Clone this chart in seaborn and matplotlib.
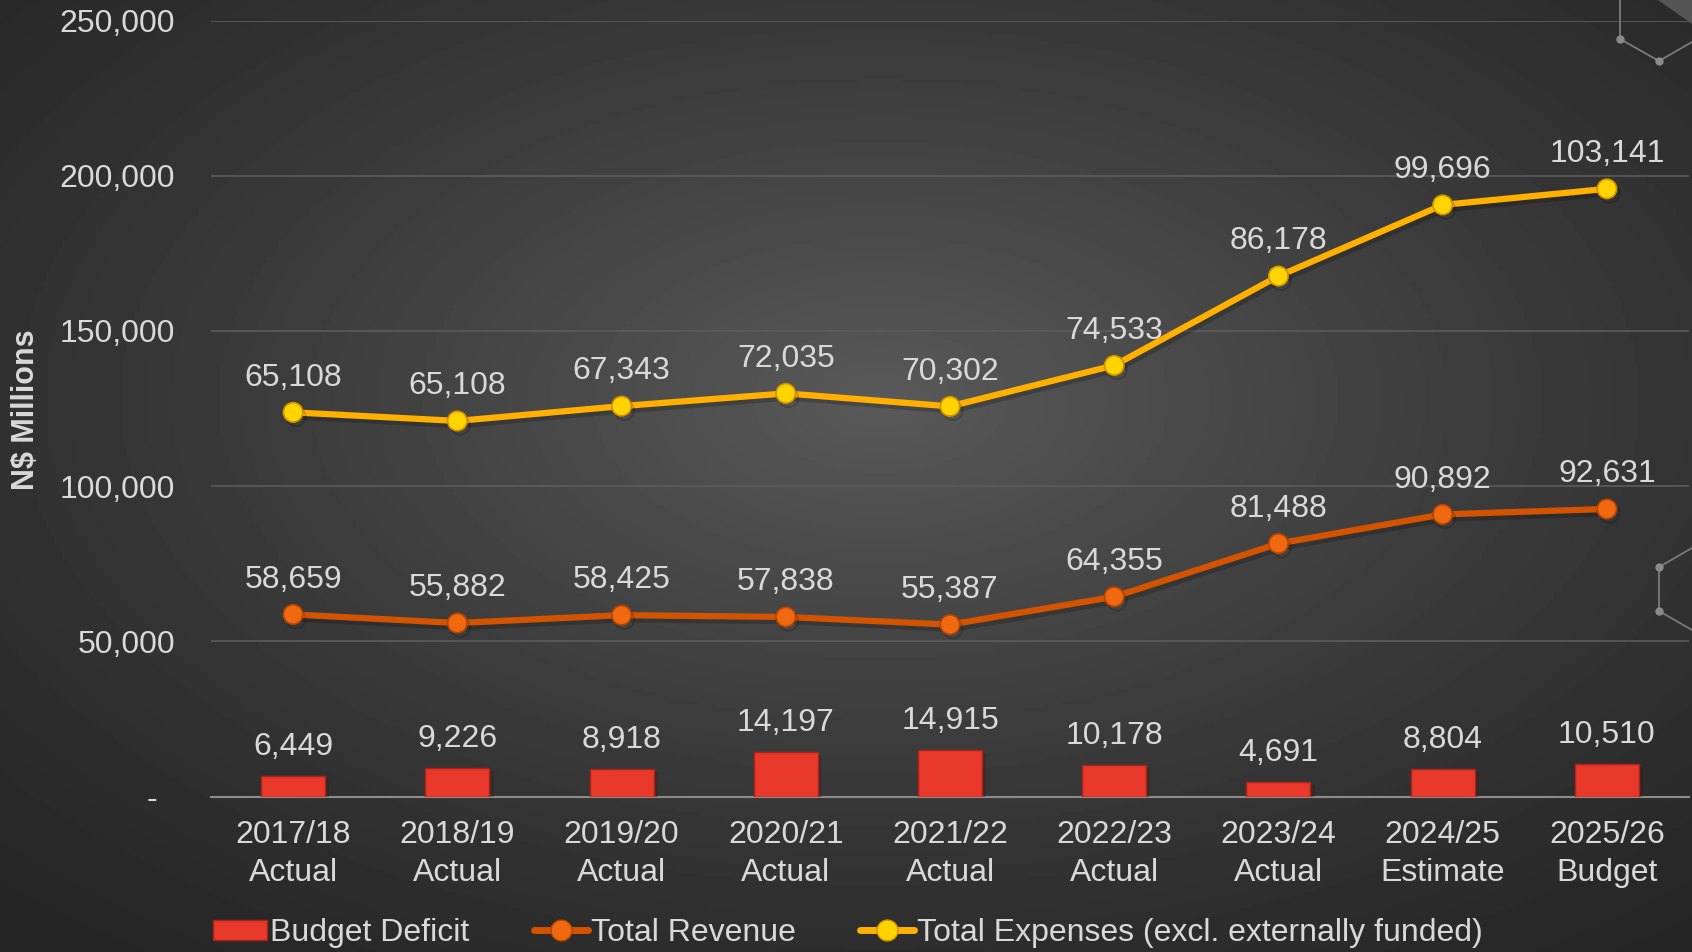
import matplotlib

matplotlib.use("Agg")
import matplotlib.patheffects as pe
import matplotlib.pyplot as plt
import numpy as np
import pandas as pd
import seaborn as sns
from matplotlib.lines import Line2D
from matplotlib.patches import Patch, Polygon

# data (N$ millions)
years = ["2017/18", "2018/19", "2019/20", "2020/21", "2021/22",
         "2022/23", "2023/24", "2024/25", "2025/26"]
status = ["Actual", "Actual", "Actual", "Actual", "Actual",
          "Actual", "Actual", "Estimate", "Budget"]
deficit = [6449, 9226, 8918, 14197, 14915, 10178, 4691, 8804, 10510]
revenue = [58659, 55882, 58425, 57838, 55387, 64355, 81488, 90892, 92631]
expenses = [65108, 65108, 67343, 72035, 70302, 74533, 86178, 99696, 103141]
y_ticks = [0, 50000, 100000, 150000, 200000, 250000]

W, H = 1692, 952
TEXT = "#d9d9d9"
BAR_RED = "#e8392a"
REV_ORANGE = "#d45300"
EXP_YELLOW = "#ffb000"

sns.set_style("dark")
plt.rcParams["font.family"] = ["Liberation Sans", "DejaVu Sans"]

df = pd.DataFrame({
    "period": [f"{y}\n{s}" for y, s in zip(years, status)],
    "pos": np.arange(len(years)),
    "deficit": deficit,
    "revenue": revenue,
    "expenses": expenses,
})
# the expense line is stacked on top of revenue in the original chart
df["expenses_top"] = df["revenue"] + df["expenses"]

fig = plt.figure(figsize=(W / 100, H / 100), dpi=100)

# dark radial-ish background
bg = fig.add_axes([0, 0, 1, 1], zorder=-10)
gx, gy = np.meshgrid(np.linspace(0, 1, 400), np.linspace(0, 1, 300))
dist = np.sqrt(((gx - 0.52) / 0.75) ** 2 + ((gy - 0.42) / 0.75) ** 2)
shade = np.clip(1 - dist, 0, 1) ** 1.3
bg.imshow(0.15 + 0.20 * shade, cmap="gray", vmin=0, vmax=1, aspect="auto",
          extent=[0, 1, 0, 1], origin="upper")
bg.axis("off")

ax = fig.add_axes([211 / W, 1 - 796.5 / H, (1689 - 211) / W, (796.5 - 20.5) / H])
ax.patch.set_alpha(0)

sns.barplot(data=df, x="period", y="deficit", color=BAR_RED, width=0.39,
            saturation=1, edgecolor="#a82418", linewidth=1, ax=ax, zorder=3)
for bar in ax.patches:
    bar.set_path_effects([pe.SimplePatchShadow(offset=(3, -2), alpha=0.3), pe.Normal()])

shadow = [pe.SimpleLineShadow(offset=(2, -3), shadow_color="black", alpha=0.2), pe.Normal()]
sns.lineplot(data=df, x="pos", y="revenue", color=REV_ORANGE, linewidth=4.5,
             marker="o", markersize=14, markerfacecolor="#f0680f",
             markeredgecolor="#b54400", markeredgewidth=1.2,
             legend=False, ax=ax, zorder=4, path_effects=shadow)
sns.lineplot(data=df, x="pos", y="expenses_top", color=EXP_YELLOW, linewidth=4.5,
             marker="o", markersize=14, markerfacecolor="#ffd400",
             markeredgecolor="#d09000", markeredgewidth=1.2,
             legend=False, ax=ax, zorder=5, path_effects=shadow)

# value labels
for i, row in df.iterrows():
    ax.annotate(f"{row['deficit']:,}", (row["pos"], row["deficit"]), xytext=(0, 21),
                textcoords="offset points", ha="center", va="center",
                fontsize=23, color=TEXT)
    ax.annotate(f"{row['revenue']:,}", (row["pos"], row["revenue"]), xytext=(0, 25),
                textcoords="offset points", ha="center", va="center",
                fontsize=23, color=TEXT)
    ax.annotate(f"{row['expenses']:,}", (row["pos"], row["expenses_top"]), xytext=(0, 25),
                textcoords="offset points", ha="center", va="center",
                fontsize=23, color=TEXT)

ax.set_xlim(-0.5, len(years) - 0.5)
ax.set_ylim(0, 250000)
ax.set_yticks(y_ticks)
ax.set_yticklabels(["-  " if v == 0 else f"{v:,}" for v in y_ticks])
ax.set_xticks(np.arange(-0.5, len(years), 1))
ax.set_xticklabels([""] * (len(years) + 1))
ax.set_xticks(df["pos"], df["period"], minor=True)
for lab in ax.get_xticklabels(minor=True):
    lab.set_linespacing(1.35)
ax.tick_params(axis="x", which="major", length=9, width=1.5, color="#8c8c8c", direction="out")
ax.tick_params(axis="x", which="minor", length=0, pad=17, labelsize=23, labelcolor=TEXT)
ax.tick_params(axis="y", length=0, pad=26, labelsize=23, labelcolor=TEXT)
ax.set_xlabel("")
ax.set_ylabel("")
ax.grid(axis="y", color="#5c5c5c", linewidth=1.2)
ax.grid(axis="x", visible=False)
ax.set_axisbelow(True)
for side in ["top", "right", "left"]:
    ax.spines[side].set_visible(False)
ax.spines["bottom"].set_color("#8c8c8c")
ax.spines["bottom"].set_linewidth(1.5)

fig.text(26 / W, 1 - 410 / H, "N$ Millions", rotation=90, ha="center", va="center",
         fontsize=22, fontweight="bold", color=TEXT)

handles = [
    Patch(facecolor=BAR_RED, edgecolor="#a82418"),
    Line2D([], [], color=REV_ORANGE, linewidth=5, marker="o", markersize=15,
           markerfacecolor="#f0680f", markeredgecolor="#b54400"),
    Line2D([], [], color=EXP_YELLOW, linewidth=5, marker="o", markersize=15,
           markerfacecolor="#ffd400", markeredgecolor="#d09000"),
]
labels = ["Budget Deficit", "Total Revenue", "Total Expenses (excl. externally funded)"]
fig.legend(handles, labels, loc="center left", bbox_to_anchor=(213 / W, 1 - 933 / H),
           ncol=3, frameon=False, fontsize=23, labelcolor=TEXT, handlelength=1.7,
           handleheight=0.6, handletextpad=0.1, columnspacing=2.0, borderpad=0,
           borderaxespad=0)

# decorative hexagon fragments on the right edge
deco = "#7a7a7a"
fig.add_artist(Line2D([1620 / W, 1620 / W, 1659 / W, 1.0],
                      [1.0, 1 - 39 / H, 1 - 61 / H, 1 - 42 / H],
                      color=deco, linewidth=1.3, marker="o", markevery=[1, 2],
                      markersize=6, markerfacecolor="#8a8a8a", markeredgecolor="none"))
fig.add_artist(Line2D([1.0, 1659 / W, 1659 / W, 1.0],
                      [1 - 548 / H, 1 - 567 / H, 1 - 611 / H, 1 - 630 / H],
                      color=deco, linewidth=1.3, marker="o", markevery=[1, 2],
                      markersize=6, markerfacecolor="#8a8a8a", markeredgecolor="none"))
fig.add_artist(Polygon([[1658 / W, 1.0], [1.0, 1.0], [1.0, 1 - 24 / H]],
                       closed=True, facecolor="#555555", edgecolor="none"))

fig.savefig("out.png", dpi=100)
